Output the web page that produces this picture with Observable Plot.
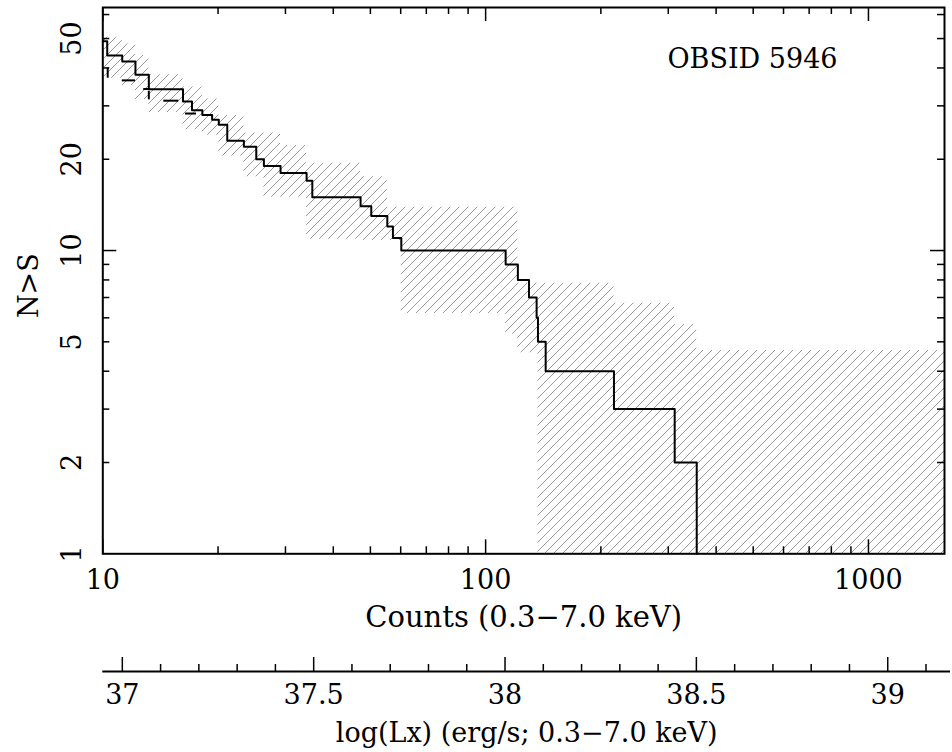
<!DOCTYPE html>
<html>
<head>
<meta charset="utf-8">
<script src="https://cdn.jsdelivr.net/npm/d3@7"></script>
<script src="https://cdn.jsdelivr.net/npm/@observablehq/plot@0.6"></script>
<style>
  html, body { margin: 0; padding: 0; background: #fff; }
  #chart svg { display: block; }
</style>
</head>
<body>
<div id="chart"></div>
<script>
// ---- data ----
const xDomain = [10, 1580];
const yDomain = [1, 63.3];

// cumulative N(>S) step function
const mainC = [10, 10.27, 11.24, 12.17, 13.19, 16.2, 17.1, 18.2, 19.3, 20.09, 21.14, 23.36, 25.17, 26.35, 29.13, 34.07, 35.26, 47.14, 50.27, 55.36, 57.26, 60.22, 112.8, 121.4, 129.8, 135.9, 137.0, 143.5, 216.4, 311.8, 356];
const mainN = [49, 44, 42, 38, 34, 31, 29, 28, 27, 26, 23, 22, 20, 19, 18, 17, 15, 14, 13, 12, 11, 10, 9, 8, 7, 6, 5, 4, 3, 2, 1];

// short pieces of a second step curve visible below the main one
const secX1 = [11.24, 12.79, 14.43, 16.45];
const secX2 = [12.17, 13.32, 15.80, 17.57];
const secN  = [36.4, 34.1, 31.2, 28.3];
const secVx  = [10.3, 13.19];
const secVy1 = [40, 33.5];
const secVy2 = [37, 31.4];

// hatched confidence band (step-after)
const bandC  = [10, 11.24, 12.17, 13.19, 16.2, 18.2, 20.09, 23.36, 26.35, 29.13, 34.07, 47.14, 55.36, 60.22, 112.8, 121.4, 137.0, 216.4, 311.8, 356, 1580];
const bandLo = [37, 35, 31.5, 28.5, 25, 24, 20.5, 17.5, 15, 15, 10.9, 10.8, 10.8, 6.2, 5.3, 4.6, 1, 1, 1, 1, 1];
const bandHi = [50.5, 48, 44, 38, 34.6, 31.6, 27.9, 24.4, 24.4, 22.2, 19.4, 17.5, 13.9, 13.9, 13.9, 7.8, 7.8, 6.7, 5.7, 4.68, 4.68];

// ticks and labels
const xMajor = [10, 100, 1000];
const xMinor = [20, 30, 40, 50, 60, 70, 80, 90, 200, 300, 400, 500, 600, 700, 800, 900];
const xLabels = [10, 100, 1000];
const yMajor = [10];
const yMinor = [2, 3, 4, 5, 6, 7, 8, 9, 20, 30, 40, 50, 60];
const yLabels = [1, 2, 5, 10, 20, 50];

const lxDomain = [36.949, 39.164];
const lxMajor = [37, 37.5, 38, 38.5, 39];
const lxMinor = [37.1, 37.2, 37.3, 37.4, 37.6, 37.7, 37.8, 37.9, 38.1, 38.2, 38.3, 38.4, 38.6, 38.7, 38.8, 38.9, 39.1];
const lxLabels = ["37", "37.5", "38", "38.5", "39"];

const obsLabel = "OBSID 5946";
const xTitle = "Counts (0.3\u22127.0 keV)";
const yTitle = "N>S";
const lxTitle = "log(Lx) (erg/s; 0.3\u22127.0 keV)";

// ---- layout ----
const W = 952;
const mL = 102.3, mR = 8, mT = 7, H1 = 640, mB = 86.7;
const plotW = W - mL - mR;
const plotH = H1 - mT - mB;
const FONT = "DejaVu Serif";
const FS = 27;
const majorLen = 14, minorLen = 7;

const band = bandC.map((c, i) => ({c, lo: bandLo[i], hi: bandHi[i]}));
const main = mainC.map((c, i) => ({c, n: mainN[i]}));
const sec = secN.map((n, i) => ({x1: secX1[i], x2: secX2[i], n}));
const secV = secVx.map((x, i) => ({x, y1: secVy1[i], y2: secVy2[i]}));

const svg1 = Plot.plot({
  width: W, height: H1,
  marginLeft: mL, marginRight: mR, marginTop: mT, marginBottom: mB,
  style: {fontFamily: FONT, fontSize: FS + "px", background: "#fff", color: "#000"},
  x: {type: "log", domain: xDomain, axis: null},
  y: {type: "log", domain: yDomain, axis: null},
  marks: [
    Plot.areaY(band, {x: "c", y1: "lo", y2: "hi", curve: "step-after", fill: "url(#hatch)"}),
    Plot.line(main, {x: "c", y: "n", curve: "step-after", stroke: "#000", strokeWidth: 2}),
    Plot.ruleY(sec, {x1: "x1", x2: "x2", y: "n", stroke: "#000", strokeWidth: 2}),
    Plot.ruleX(secV, {x: "x", y1: "y1", y2: "y2", stroke: "#000", strokeWidth: 2}),
    // ticks: bottom & top
    Plot.tickX(xMajor, {x: d => d, insetTop: plotH - majorLen, stroke: "#000", strokeWidth: 1.5}),
    Plot.tickX(xMinor, {x: d => d, insetTop: plotH - minorLen, stroke: "#000", strokeWidth: 1.5}),
    Plot.tickX(xMajor, {x: d => d, insetBottom: plotH - majorLen, stroke: "#000", strokeWidth: 1.5}),
    Plot.tickX(xMinor, {x: d => d, insetBottom: plotH - minorLen, stroke: "#000", strokeWidth: 1.5}),
    // ticks: left & right
    Plot.tickY(yMajor, {y: d => d, insetRight: plotW - majorLen, stroke: "#000", strokeWidth: 1.5}),
    Plot.tickY(yMinor, {y: d => d, insetRight: plotW - minorLen, stroke: "#000", strokeWidth: 1.5}),
    Plot.tickY(yMajor, {y: d => d, insetLeft: plotW - majorLen, stroke: "#000", strokeWidth: 1.5}),
    Plot.tickY(yMinor, {y: d => d, insetLeft: plotW - minorLen, stroke: "#000", strokeWidth: 1.5}),
    Plot.frame({stroke: "#000", strokeWidth: 2}),
    // tick labels
    Plot.text(xLabels, {x: d => d, text: d => String(d), frameAnchor: "bottom", dy: 27, lineAnchor: "middle", fontSize: FS, fill: "#000"}),
    Plot.text(yLabels, {y: d => d, text: d => String(d), frameAnchor: "left", dx: -30, rotate: -90, textAnchor: "middle", lineAnchor: "middle", fontSize: FS, fill: "#000"}),
    // titles
    Plot.text([xTitle], {text: d => d, frameAnchor: "bottom", dy: 64, lineAnchor: "middle", fontSize: 29, fill: "#000"}),
    Plot.text([yTitle], {text: d => d, frameAnchor: "left", dx: -73, dy: 5, rotate: -90, textAnchor: "middle", lineAnchor: "middle", fontSize: FS, fill: "#000"}),
    Plot.text([obsLabel], {text: d => d, frameAnchor: "top-right", dx: -107, dy: 52, textAnchor: "end", lineAnchor: "middle", fontSize: FS, fill: "#000"})
  ]
});

const defs = document.createElementNS("http://www.w3.org/2000/svg", "defs");
defs.innerHTML = '<pattern id="hatch" patternUnits="userSpaceOnUse" width="9" height="9">' +
  '<path d="M-1,1 l2,-2 M0,9 l9,-9 M8,10 l2,-2" stroke="#999" stroke-width="1" fill="none"/></pattern>';
svg1.insertBefore(defs, svg1.firstChild);

// second (luminosity) axis
const H2 = 112, mT2 = 0, mB2 = 81;
const plotH2 = H2 - mT2 - mB2;
const svg2 = Plot.plot({
  width: W, height: H2,
  marginLeft: mL, marginRight: 2, marginTop: mT2, marginBottom: mB2,
  style: {fontFamily: FONT, fontSize: FS + "px", background: "#fff", color: "#000", overflow: "visible"},
  x: {type: "linear", domain: lxDomain, axis: null},
  y: {domain: [0, 1], axis: null},
  marks: [
    Plot.ruleY([0], {stroke: "#000", strokeWidth: 2}),
    Plot.tickX(lxMajor, {x: d => d, insetTop: plotH2 - majorLen, stroke: "#000", strokeWidth: 1.5}),
    Plot.tickX(lxMinor, {x: d => d, insetTop: plotH2 - minorLen, stroke: "#000", strokeWidth: 1.5}),
    Plot.text(lxMajor, {x: d => d, text: (d, i) => lxLabels[i], frameAnchor: "bottom", dy: 24, lineAnchor: "middle", fontSize: FS, fill: "#000"}),
    Plot.text([lxTitle], {text: d => d, frameAnchor: "bottom", dy: 62, lineAnchor: "middle", fontSize: FS, fill: "#000"})
  ]
});

const chart = document.getElementById("chart");
chart.appendChild(svg1);
chart.appendChild(svg2);
</script>
</body>
</html>
